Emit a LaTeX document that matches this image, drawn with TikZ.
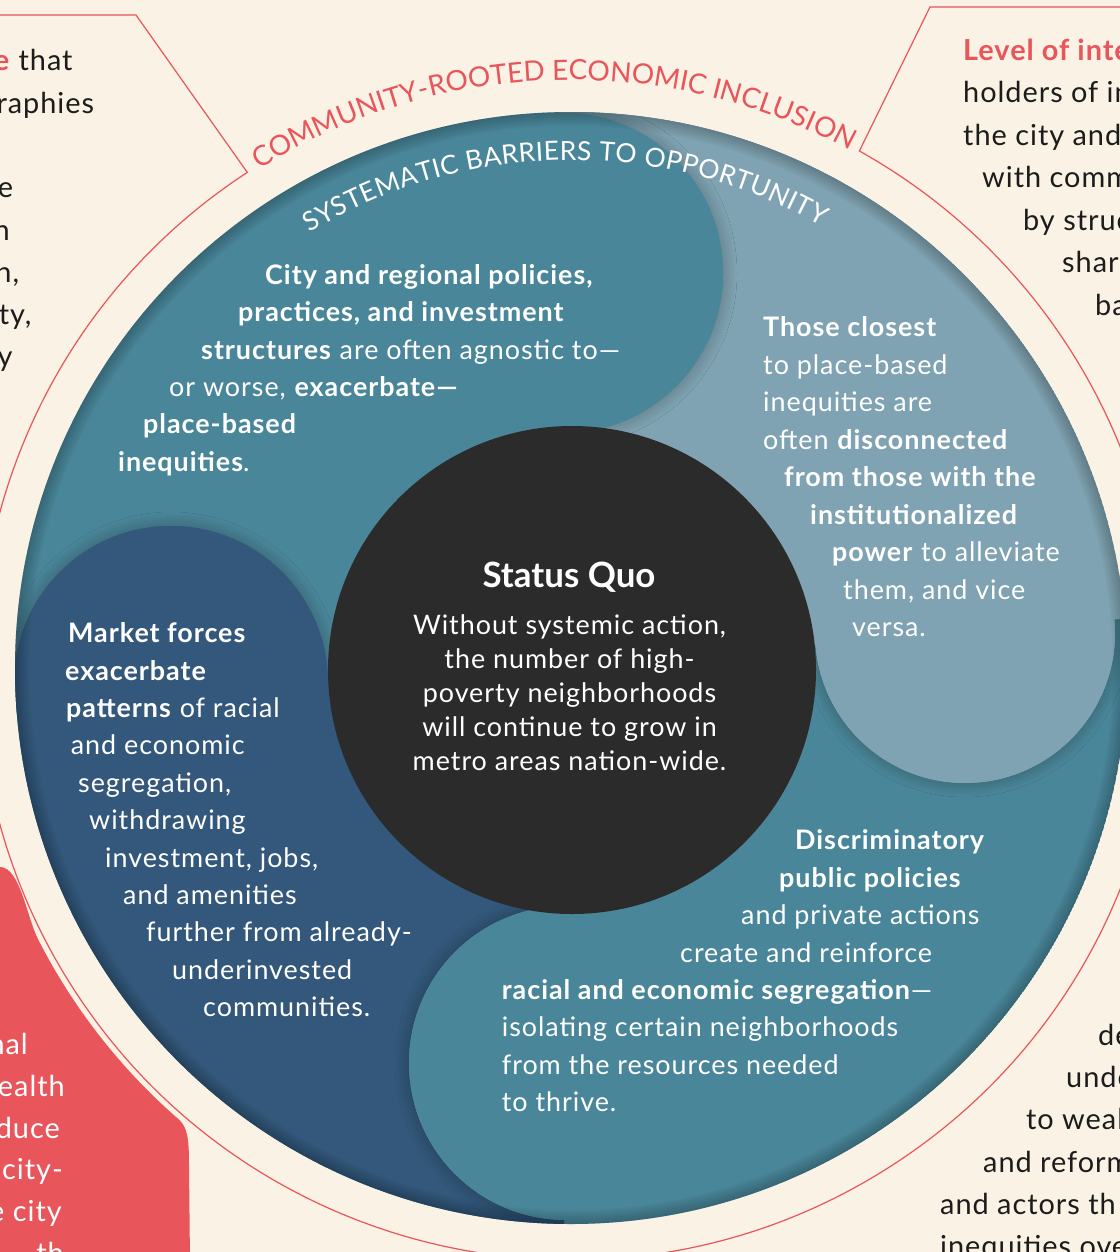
\documentclass[tikz,border=0pt]{standalone}
\usepackage{fontspec}
\setmainfont{Lato}
\newfontfamily\bodyfont[LetterSpace=3.6]{Lato}
\newfontfamily\cardfont[LetterSpace=3.4]{Lato}
\usetikzlibrary{decorations.text,shadows.blur}
\definecolor{cream}{HTML}{FAF2E4}
\definecolor{redc}{HTML}{E8555B}
\definecolor{tealc}{HTML}{4A8699}
\definecolor{lightc}{HTML}{7FA3B2}
\definecolor{bluec}{HTML}{33587B}
\definecolor{blackc}{HTML}{2B2B2B}
\definecolor{inkc}{HTML}{1C1C1C}
\begin{document}
\begin{tikzpicture}[x=1bp,y=1bp,
  inner/.style={font=\bodyfont\fontsize{27}{27}\selectfont, text=white, inner sep=0pt, anchor=base west},
  sqbody/.style={font=\bodyfont\fontsize{27}{27}\selectfont, text=white, inner sep=0pt, anchor=base},
  sqtitle/.style={font=\setmainfont{Lato}\bfseries\fontsize{35}{35}\selectfont, text=white, inner sep=0pt, anchor=base},
  cardl/.style={font=\cardfont\fontsize{29}{29}\selectfont, text=inkc, inner sep=0pt, anchor=base west},
  cardr/.style={font=\cardfont\fontsize{29}{29}\selectfont, text=inkc, inner sep=0pt, anchor=base east},
  blobtxt/.style={font=\cardfont\fontsize{29}{29}\selectfont, text=white, inner sep=0pt, anchor=base east},
  petalshadow/.style={blur shadow={shadow xshift=0bp, shadow yshift=0bp, shadow blur radius=14bp, shadow blur steps=28, shadow opacity=30}}
]
\useasboundingbox (0,0) rectangle (1120,-1252);
\fill[cream] (0,0) rectangle (1120,-1252);
\coordinate (C) at (571,-668);

% red blob bottom left
\fill[redc] (-10,-867) -- (0,-867) .. controls (20,-867) and (26.8,-917.2) .. ([shift={(207:598)}]C)
  arc[start angle=207, end angle=229, radius=598]
  .. controls (187.8,-1127.2) and (189,-1140) .. (189,-1165) -- (190,-1262) -- (-10,-1262) -- cycle;

% red outline of the cards and circle
\draw[redc, line width=1.2bp] (-5,-15) -- (136,-15) -- ([shift={(123.15:592)}]C)
  arc[start angle=123.15, end angle=420.85, radius=592] -- (930,-7) -- (1130,-7);

% disc with pinwheel regions
\begin{scope}
  \clip (C) circle[radius=556];
  \fill[tealc] (C) circle[radius=556];
  \fill[lightc] (C) -- ([shift={(5.1:620)}]C) arc[start angle=5.1, end angle=91.2, radius=620] -- cycle;
  \fill[bluec] (C) -- ([shift={(182.1:620)}]C) arc[start angle=182.1, end angle=269.3, radius=620] -- cycle;
  \begin{scope}
    \clip (C) -- ([shift={(5.1:620)}]C) arc[start angle=5.1, end angle=91.2, radius=620] -- cycle;
    \fill[tealc, petalshadow] (563,-273) circle[radius=160];
  \end{scope}
  \begin{scope}
    \clip (C) -- ([shift={(-90.7:620)}]C) arc[start angle=-90.7, end angle=5.1, radius=620] -- cycle;
    \fill[lightc, petalshadow] (965,-633) circle[radius=150];
  \end{scope}
  \begin{scope}
    \clip (C) -- ([shift={(91.2:620)}]C) arc[start angle=91.2, end angle=182.1, radius=620] -- cycle;
    \fill[bluec, petalshadow] (171,-683) circle[radius=157];
  \end{scope}
  \begin{scope}
    \clip (C) -- ([shift={(182.1:620)}]C) arc[start angle=182.1, end angle=269.3, radius=620] -- cycle;
    \fill[tealc, petalshadow] (566,-1063) circle[radius=157];
  \end{scope}
  \fill[tealc] (563,-273) circle[radius=160];
  \fill[lightc] (965,-633) circle[radius=150];
  \fill[bluec] (171,-683) circle[radius=157];
  \fill[tealc] (566,-1063) circle[radius=157];
  % soft darkening at the rim
  \foreach \w in {4,8,12,16,20,24,28}
    \draw[black, opacity=0.03, line width=\w bp] (C) circle[radius=556];
  \fill[blackc] (572,-670) circle[radius=244];
\end{scope}

% curved titles
\path[decorate, decoration={text along path, text color=redc, text align=fit to path,
  text={|\fontsize{28}{28}\selectfont|COMMUNITY-ROOTED ECONOMIC INCLUSION}}]
  ([shift={(122:588)}]C) arc[start angle=122, end angle=61.8, radius=588];
\path[decorate, decoration={text along path, text color=white, text align=fit to path,
  text={|\fontsize{26.5}{26.5}\selectfont|SYSTEMATIC BARRIERS TO OPPORTUNITY}}]
  ([shift={(121:508)}]C) arc[start angle=121, end angle=60.5, radius=508];

% top teal block
\node[inner] (t1) at (265,-284) {\textbf{City and regional policies,}};
\node[inner] (t2) at (238,-321) {\textbf{practices, and investment}};
\node[inner] (t3) at (201,-359) {\textbf{structures} are often agnostic to—};
\node[inner] (t4) at (169,-396) {or worse, \textbf{exacerbate—}};
\node[inner] (t5) at (143,-433) {\textbf{place-based}};
\node[inner] (t6) at (118,-471) {\textbf{inequities}.};

% light block
\node[inner] (r1) at (763,-336.7) {\textbf{Those closest}};
\node[inner] (r2) at (763,-374.2) {to place-based};
\node[inner] (r3) at (763,-411.7) {inequities are};
\node[inner] (r4) at (763,-449.2) {often \textbf{disconnected}};
\node[inner] (r5) at (784,-486.7) {\textbf{from those with the}};
\node[inner] (r6) at (810,-524.2) {\textbf{institutionalized}};
\node[inner] (r7) at (832,-561.7) {\textbf{power} to alleviate};
\node[inner] (r8) at (843,-599.2) {them, and vice};
\node[inner] (r9) at (852,-636.7) {versa.};

% blue block
\node[inner] (l1) at (68,-642.7) {\textbf{Market forces}};
\node[inner] (l2) at (65,-680.1) {\textbf{exacerbate}};
\node[inner] (l3) at (66,-717.5) {\textbf{patterns} of racial};
\node[inner] (l4) at (70.7,-754.9) {and economic};
\node[inner] (l5) at (78,-792.3) {segregation,};
\node[inner] (l6) at (89,-829.7) {withdrawing};
\node[inner] (l7) at (105,-867.1) {investment, jobs,};
\node[inner] (l8) at (123,-904.5) {and amenities};
\node[inner] (l9) at (146,-941.9) {further from already-};
\node[inner] (l10) at (172,-979.3) {underinvested};
\node[inner] (l11) at (203,-1016.7) {communities.};

% bottom teal block
\node[inner] (d1) at (795,-849.8) {\textbf{Discriminatory}};
\node[inner] (d2) at (779,-887.2) {\textbf{public policies}};
\node[inner] (d3) at (741,-924.6) {and private actions};
\node[inner] (d4) at (680,-962) {create and reinforce};
\node[inner] (d5) at (501.7,-999.4) {\textbf{racial and economic segregation}—};
\node[inner] (d6) at (501.7,-1036.8) {isolating certain neighborhoods};
\node[inner] (d7) at (501.7,-1074.2) {from the resources needed};
\node[inner] (d8) at (501.7,-1111.6) {to thrive.};

% center
\node[sqtitle] (sq) at (569,-587.3) {Status Quo};
\node[sqbody] (s1) at (569.5,-634.3) {Without systemic action,};
\node[sqbody] (s2) at (569.5,-668.3) {the number of high-};
\node[sqbody] (s3) at (569.5,-702.4) {poverty neighborhoods};
\node[sqbody] (s4) at (569.5,-736.6) {will continue to grow in};
\node[sqbody] (s5) at (569.5,-770.7) {metro areas nation-wide.};

% left card (cut off)
\node[cardr] (c1) at (72.7,-70.7) {\textcolor{redc}{\textbf{e}} that};
\node[cardr] (c2) at (94.3,-113) {raphies};
\node[cardr] (c3) at (13.3,-197.6) {e};
\node[cardr] (c4) at (10,-240) {n};
\node[cardr] (c5) at (19.3,-282.2) {h,};
\node[cardr] (c6) at (31.7,-324.5) {ty,};
\node[cardr] (c7) at (12.7,-366.8) {y};

% right card (cut off)
\node[cardl] (k1) at (963,-60) {\textcolor{redc}{\textbf{Level of inte}}};
\node[cardl] (k2) at (963,-102.5) {holders of in};
\node[cardl] (k3) at (963,-145) {the city and};
\node[cardl] (k4) at (982,-187.5) {with comm};
\node[cardl] (k5) at (1023,-230) {by struc};
\node[cardl] (k6) at (1062,-272.5) {share};
\node[cardl] (k7) at (1095,-315) {ba};

% bottom right card (cut off)
\node[cardl] (m1) at (1098,-1045) {de};
\node[cardl] (m2) at (1066,-1087) {unde};
\node[cardl] (m3) at (1026,-1129.5) {to weal};
\node[cardl] (m4) at (983,-1172) {and reform};
\node[cardl] (m5) at (940,-1214) {and actors th};
\node[cardl] (m6) at (940,-1256) {inequities ove};

% blob text (cut off)
\node[blobtxt] (b1) at (28,-1054) {nal};
\node[blobtxt] (b2) at (65,-1096) {ealth};
\node[blobtxt] (b3) at (60,-1138) {duce};
\node[blobtxt] (b4) at (63,-1179) {city-};
\node[blobtxt] (b5) at (62,-1221) {e city};
\node[blobtxt] (b6) at (64,-1263) {th};
\end{tikzpicture}
\end{document}
